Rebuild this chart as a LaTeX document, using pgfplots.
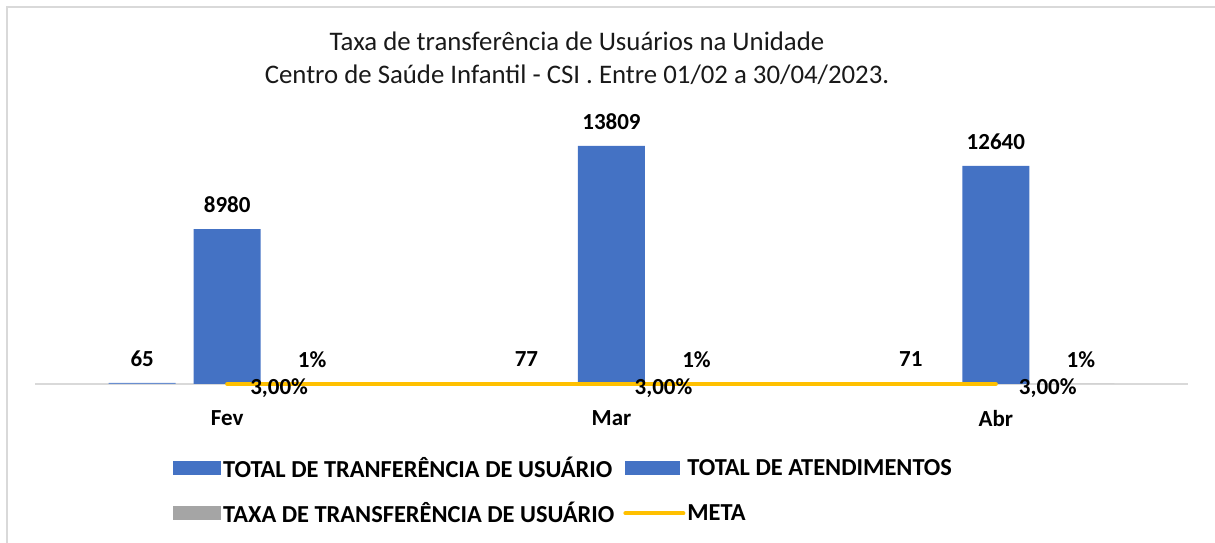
\documentclass[border=0pt]{standalone}
\usepackage{pgfplots}
\pgfplotsset{compat=1.18}
\usepackage{fontspec}
\setmainfont{Carlito}
\definecolor{cblue}{HTML}{4472C4}
\definecolor{cgray}{HTML}{A5A5A5}
\definecolor{cyel}{HTML}{FFC000}
\begin{document}
\begin{tikzpicture}
\useasboundingbox (0,0) rectangle (1215pt,543pt);
\draw[black!15, line width=1.5pt] (7pt,0) -- (7pt,536pt) -- (1215pt,536pt);
\node[font=\fontsize{26.8}{33}\selectfont, align=center, text=black!90] at (577pt,484.5pt) {Taxa de transferência de Usuários na Unidade\\Centro de Saúde Infantil - CSI . Entre 01/02 a 30/04/2023.};
\begin{axis}[
  at={(35pt,159pt)}, anchor=south west, scale only axis,
  width=1153pt, height=276pt,
  xmin=-0.5, xmax=2.5, ymin=0, ymax=16000,
  axis y line=none, axis x line*=bottom,
  x axis line style={draw=black!15, line width=1.2pt, -},
  xtick={0,1,2}, xticklabels={Fev,Mar,Abr},
  xtick style={draw=none},
  xticklabel style={font=\fontsize{23}{23}\selectfont\bfseries, yshift=-23pt},
  clip=false,
  /pgf/number format/fixed, /pgf/number format/1000 sep={},
  /pgf/number format/assume math mode=true,
  every node near coord/.append style={font=\fontsize{23}{23}\selectfont\bfseries, text=black, yshift=13pt},
  legend columns=2,
  legend cell align=left,
  legend style={draw=none, fill=none, font=\fontsize{24.4}{24.4}\selectfont\bfseries,
    at={(axis description cs:0.117,-0.25)}, anchor=north west,
    row sep=19pt,
    /tikz/every even column/.append style={column sep=7pt}},
]
\addplot[ybar, bar width=67pt, bar shift=-85pt, fill=cblue!80, draw=none, nodes near coords,
  every node near coord/.append style={xshift=-85pt},
  legend image code/.code={\fill[cblue] (0pt,-7pt) rectangle (48pt,7pt);}]
  coordinates {(0,65) (1,77) (2,71)};
\addlegendentry{TOTAL DE TRANFERÊNCIA DE USUÁRIO}
\addplot[ybar, bar width=67pt, bar shift=0pt, fill=cblue, draw=none, nodes near coords,
  legend image code/.code={\fill[cblue] (0pt,-7pt) rectangle (55pt,7pt);}]
  coordinates {(0,8980) (1,13809) (2,12640)};
\addlegendentry{TOTAL DE ATENDIMENTOS}
\addplot[ybar, bar width=67pt, bar shift=85pt, fill=cgray, draw=none, nodes near coords={1\%},
  every node near coord/.append style={xshift=85pt},
  legend image code/.code={\fill[cgray] (0pt,-7pt) rectangle (48pt,7pt);}]
  coordinates {(0,0.01) (1,0.01) (2,0.01)};
\addlegendentry{TAXA DE TRANSFERÊNCIA DE USUÁRIO}
\addplot[cyel, line width=4pt, line cap=round, mark=none, nodes near coords={3,00\%},
  every node near coord/.append style={anchor=center, xshift=52pt, yshift=-17pt},
  legend image code/.code={\draw[cyel, line width=4pt, line cap=round] (0pt,0pt) -- (58pt,0pt);}]
  coordinates {(0,0.03) (1,0.03) (2,0.03)};
\addlegendentry{META}
\end{axis}
\end{tikzpicture}
\end{document}
